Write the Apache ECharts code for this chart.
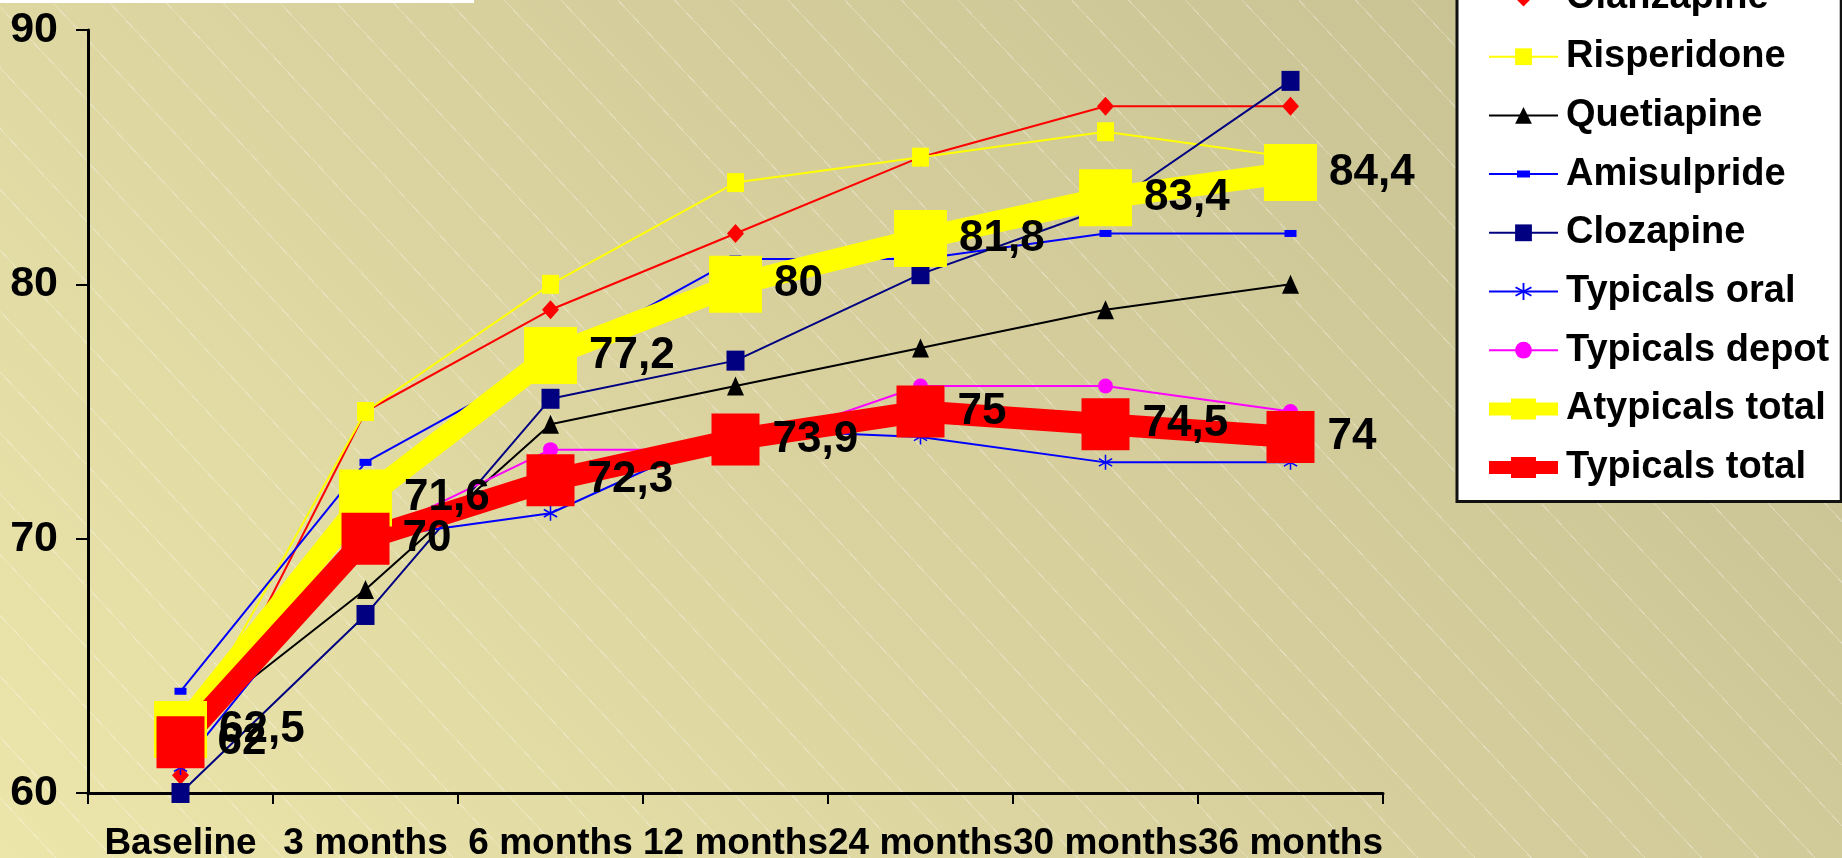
<!DOCTYPE html>
<html>
<head>
<meta charset="utf-8">
<title>Adherence over time</title>
<script src="https://cdn.jsdelivr.net/npm/echarts@6.0.0/dist/echarts.min.js"></script>
<style>
    html, body { margin: 0; padding: 0; }
    #chart_main {
        width: 1842px;
        height: 858px;
        background:
            repeating-linear-gradient(47deg, rgba(255,255,255,0) 0px, rgba(255,255,255,0) 40.5px, rgba(255,255,255,0.3) 40.5px, rgba(255,255,255,0.3) 41.5px),
            linear-gradient(44deg, #ece6ab 0%, #dbd4a0 40%, #cac394 85%, #c6be90 100%);
    }
</style>
</head>
<body>
<div id="chart_main"></div>
<script>
// categories and values
var categories = ['Baseline', '3 months', '6 months', '12 months', '24 months', '30 months', '36 months'];
var yTicks = [60, 70, 80, 90];

var olanzapine     = [60.7, 75, 79, 82, 85, 87, 87];
var risperidone    = [62, 75, 80, 84, 85, 86, 85];
var quetiapine     = [62.3, 68, 74.5, 76, 77.5, 79, 80];
var amisulpride    = [64, 73, 77, 81, 81, 82, 82];
var clozapine      = [60, 67, 75.5, 77, 80.4, 83, 88];
var typicalsOral   = [61, 70, 71, 74.3, 74, 73, 73];
var typicalsDepot  = [63, 70, 73.5, 73.5, 76, 76, 75];
var atypicalsTotal = [62.5, 71.6, 77.2, 80, 81.8, 83.4, 84.4];
var typicalsTotal  = [62, 70, 72.3, 73.9, 75, 74.5, 74];

var FONT = '"Liberation Sans", Arial, sans-serif';

// asterisk marker (vertical bar + two diagonals)
var asterisk = 'path://M9,0L11,0L11,20L9,20Z M1.84,4.13L19.16,14.13L18.16,15.87L0.84,5.87Z M0.84,14.13L18.16,4.13L19.16,5.87L1.84,15.87Z';
var totalIcon = 'path://M0,4h69v13h-69z M22,0h25v21h-25z';
var amisulIcon = 'path://M0,9.5h69v2h-69z M28,7h13v7h-13z';

// comma as decimal separator
var commaFmt = function (p) {
    return String(p.value).replace('.', ',');
};

var thinLine = function (name, data, color, symbol, size) {
    return {
        name: name,
        type: 'line',
        data: data,
        symbol: symbol,
        symbolSize: size,
        lineStyle: {color: color, width: 2},
        itemStyle: {color: color},
        emphasis: {disabled: true}
    };
};

var totalLine = function (name, data, color, size, dist) {
    return {
        name: name,
        type: 'line',
        data: data,
        symbol: 'rect',
        symbolSize: size,
        lineStyle: {color: color, width: 22, join: 'round'},
        itemStyle: {color: color},
        emphasis: {disabled: true},
        label: {
            show: true,
            position: 'right',
            distance: dist,
            formatter: commaFmt,
            color: '#000',
            fontFamily: FONT,
            fontWeight: 'bold',
            fontSize: 44
        }
    };
};

var chart = echarts.init(document.getElementById('chart_main'));

var option = {
    animation: false,
    backgroundColor: 'transparent',
    textStyle: {fontFamily: FONT},
    graphic: [
        {type: 'rect', left: 0, top: 0, shape: {width: 474, height: 3}, style: {fill: '#ffffff'}}
    ],
    grid: {left: 88, right: 459, top: 30, bottom: 65, outerBoundsMode: 'none'},
    legend: {
        orient: 'vertical',
        left: 1457,
        top: -31,
        padding: [10, 12, 15, 31],
        backgroundColor: '#ffffff',
        borderColor: '#111111',
        borderWidth: 3,
        borderRadius: 0,
        itemWidth: 69,
        itemHeight: 21,
        itemGap: 20.7,
        selectedMode: false,
        textStyle: {
            fontFamily: FONT,
            fontWeight: 'bold',
            fontSize: 38,
            lineHeight: 38,
            color: '#000',
            padding: [0, 0, 0, 3]
        },
        data: [
            {name: 'Olanzapine'},
            {name: 'Risperidone'},
            {name: 'Quetiapine'},
            {name: 'Amisulpride', icon: amisulIcon},
            {name: 'Clozapine'},
            {name: 'Typicals oral'},
            {name: 'Typicals depot'},
            {name: 'Atypicals total', icon: totalIcon},
            {name: 'Typicals total', icon: totalIcon}
        ]
    },
    xAxis: {
        type: 'category',
        data: categories,
        boundaryGap: true,
        axisLine: {lineStyle: {color: '#000', width: 3}},
        axisTick: {show: true, length: 11, lineStyle: {color: '#000', width: 2}},
        axisLabel: {
            interval: 0,
            margin: 32,
            color: '#000',
            fontFamily: FONT,
            fontWeight: 'bold',
            fontSize: 37
        },
        splitLine: {show: false}
    },
    yAxis: {
        type: 'value',
        min: yTicks[0],
        max: yTicks[yTicks.length - 1],
        interval: 10,
        axisLine: {show: true, lineStyle: {color: '#000', width: 3}},
        axisTick: {show: true, length: 12, lineStyle: {color: '#000', width: 2}},
        axisLabel: {
            margin: 30,
            color: '#000',
            fontFamily: FONT,
            fontWeight: 'bold',
            fontSize: 43
        },
        splitLine: {show: false}
    },
    series: [
        thinLine('Olanzapine', olanzapine, '#ff0000', 'diamond', [17, 19]),
        thinLine('Risperidone', risperidone, '#ffff00', 'rect', [17, 19]),
        thinLine('Quetiapine', quetiapine, '#000000', 'triangle', [17, 19]),
        thinLine('Amisulpride', amisulpride, '#0000ff', 'rect', [12, 7]),
        thinLine('Clozapine', clozapine, '#000080', 'rect', [18, 20]),
        thinLine('Typicals oral', typicalsOral, '#0000ff', asterisk, [14, 15]),
        thinLine('Typicals depot', typicalsDepot, '#ff00ff', 'circle', 15),
        totalLine('Atypicals total', atypicalsTotal, '#ffff00', [53, 57], 12),
        totalLine('Typicals total', typicalsTotal, '#ff0000', [48, 52], 13)
    ]
};

chart.setOption(option);
</script>
</body>
</html>
